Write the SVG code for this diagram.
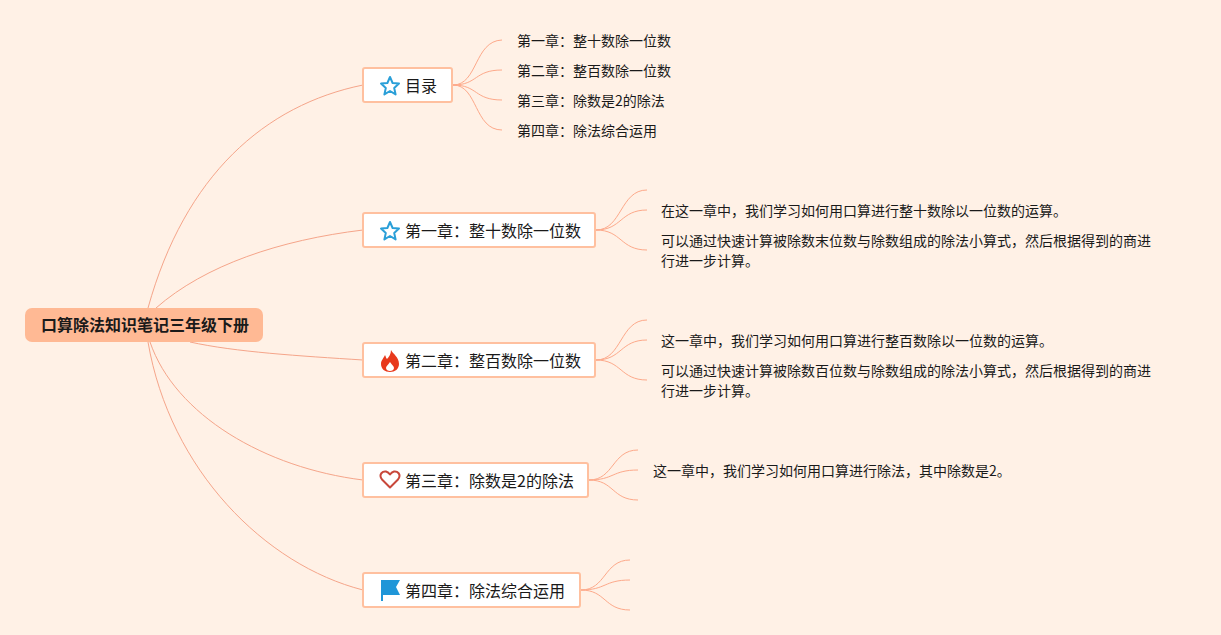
<svg xmlns="http://www.w3.org/2000/svg" width="1221" height="635" viewBox="0 0 1221 635">
<style>
text{font-family:"Noto Sans CJK SC","Noto Sans",sans-serif;fill:#1a1a1a}
.c{fill:none;stroke:#fda98a;stroke-width:1}
.m{fill:none;stroke:#f5a58a;stroke-width:1}
.n{fill:#fff;stroke:#ffc09f;stroke-width:2}
.t{font-size:16px}
.l{font-size:14px}
.s{fill:none;stroke:#2a9fd8;stroke-width:2;stroke-linejoin:round}
</style>
<defs><path id="star" class="s" d="M0,-9 L2.6,-3 L9,-2.4 L4.2,2 L5.6,8.4 L0,5 L-5.6,8.4 L-4.2,2 L-9,-2.4 L-2.6,-3 Z"/></defs>
<rect width="1221" height="635" fill="#fff1e6"/>
<g id="connectors">
<path class="m" d="M148,308 C185,175 265,105 363,85"/>
<path class="m" d="M156,308 C205,265 280,240 363,230"/>
<path class="m" d="M190,342 C235,352 300,356 363,360"/>
<path class="m" d="M150,342 C175,415 265,468 363,480"/>
<path class="m" d="M148,342 C170,470 265,565 363,590"/>
<path class="c" d="M453,85 C478,85 474,41 502,40"/>
<path class="c" d="M453,85 C478,85 474,70 502,70"/>
<path class="c" d="M453,85 C478,85 474,100 502,100"/>
<path class="c" d="M453,85 C478,85 474,130 502,130"/>
<path class="c" d="M596,230 C622,230 620,190 647,190"/>
<path class="c" d="M596,230 C622,230 620,210 647,210"/>
<path class="c" d="M596,230 C622,230 620,250 647,250"/>
<path class="c" d="M596,360 C622,360 620,320 647,320"/>
<path class="c" d="M596,360 C622,360 620,340 647,340"/>
<path class="c" d="M596,360 C622,360 620,380 647,380"/>
<path class="c" d="M589,480 C614,480 612,450 638,450"/>
<path class="c" d="M589,480 C614,480 612,470 638,470"/>
<path class="c" d="M589,480 C614,480 612,500 638,500"/>
<path class="c" d="M581,590 C606,590 604,560 630,560"/>
<path class="c" d="M581,590 C606,590 604,580 630,580"/>
<path class="c" d="M581,590 C606,590 604,610 630,610"/>
</g>
<g id="root"><rect x="25" y="308" width="238" height="34" rx="7" fill="#ffb994"/><text x="41" y="331" font-size="16" font-weight="700">口算除法知识笔记三年级下册</text></g>
<g id="n0"><rect class="n" x="363" y="68" width="89" height="34" rx="2"/><use href="#star" x="390" y="86"/><text class="t" x="405" y="92">目录</text></g>
<g id="n1"><rect class="n" x="363" y="213" width="232" height="34" rx="2"/><use href="#star" x="390" y="231"/><text class="t" x="405" y="237">第一章：整十数除一位数</text></g>
<g id="n2"><rect class="n" x="363" y="343" width="232" height="34" rx="2"/><path fill="#e8391c" d="M391,350 C393,354 399,357 399,364 C399,369 395,372 390,372 C385,372 381,369 381,364 C381,360 384,358 385,355 C386,357 386,358 387,359 C389,357 391,354 391,350 Z M390,362 C388,365 386,366 386,368 C386,370 388,371 390,371 C392,371 394,370 394,368 C394,366 392,365 390,362 Z" fill-rule="evenodd"/><text class="t" x="405" y="367">第二章：整百数除一位数</text></g>
<g id="n3"><rect class="n" x="363" y="463" width="225" height="34" rx="2"/><path fill="none" stroke="#c8473a" stroke-width="2" stroke-linejoin="round" d="M390,487.500 L382,479.500 C378,474 383,471 386,471.500 C388,472 389,473 390,474.500 C391,473 392,472 394,471.500 C397,471 402,474 398,479.500 Z"/><text class="t" x="405" y="487">第三章：除数是2的除法</text></g>
<g id="n4"><rect class="n" x="363" y="573" width="217" height="34" rx="2"/><path fill="#1f96d8" d="M381,580 H400 L396,587 L400,595 H383 V601 H381 Z"/><text class="t" x="405" y="597">第四章：除法综合运用</text></g>
<g id="leaves">
<text class="l" x="517" y="46">第一章：整十数除一位数</text>
<text class="l" x="517" y="76">第二章：整百数除一位数</text>
<text class="l" x="517" y="106">第三章：除数是2的除法</text>
<text class="l" x="517" y="136">第四章：除法综合运用</text>
<text class="l" x="661" y="216">在这一章中，我们学习如何用口算进行整十数除以一位数的运算。</text>
<text class="l" x="661" y="246">可以通过快速计算被除数末位数与除数组成的除法小算式，然后根据得到的商进</text>
<text class="l" x="661" y="266">行进一步计算。</text>
<text class="l" x="661" y="346">这一章中，我们学习如何用口算进行整百数除以一位数的运算。</text>
<text class="l" x="661" y="376">可以通过快速计算被除数百位数与除数组成的除法小算式，然后根据得到的商进</text>
<text class="l" x="661" y="396">行进一步计算。</text>
<text class="l" x="653" y="476">这一章中，我们学习如何用口算进行除法，其中除数是2。</text>
</g>
</svg>
